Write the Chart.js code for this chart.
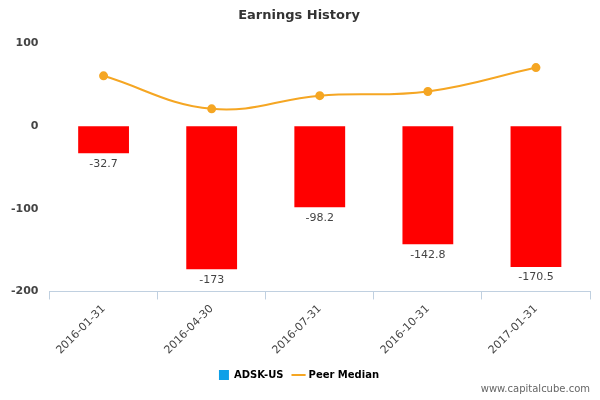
<!DOCTYPE html>
<html>
<head>
<script src="https://cdn.jsdelivr.net/npm/chart.js@4"></script>
<style>
  body { margin: 0; background: #fff; }
  #wrap { width: 600px; height: 400px; position: relative; }
  #mark { position: absolute; right: 10px; bottom: 6px; font: 10px "DejaVu Sans", sans-serif; color: #666; }
</style>
</head>
<body>
<div id="wrap">
  <canvas id="chart" width="600" height="400"></canvas>
  <div id="mark">www.capitalcube.com</div>
</div>
<script>
/* --------------- Data --------------------- */
const categories = ["2016-01-31", "2016-04-30", "2016-07-31", "2016-10-31", "2017-01-31"];
const earnings = [-32.7, -173, -98.2, -142.8, -170.5];
const peerMedian = [61, 21, 37, 42, 71];

/* --------------- Labels under the bars --------------------- */
const barLabels = {
  id: "barLabels",
  afterDatasetsDraw(chart) {
    const ctx = chart.ctx;
    const meta = chart.getDatasetMeta(0);
    ctx.save();
    ctx.font = "11px 'DejaVu Sans', sans-serif";
    ctx.fillStyle = "#444";
    ctx.textAlign = "center";
    ctx.textBaseline = "top";
    meta.data.forEach((bar, i) => {
      ctx.fillText(String(earnings[i]), bar.x, bar.y + 5);
    });
    ctx.restore();
  },
};

new Chart(document.getElementById("chart"), {
  plugins: [barLabels],
  data: {
    labels: categories,
    datasets: [
      {
        type: "bar",
        label: "ADSK-US",
        data: earnings,
        backgroundColor: "#ff0000",
        barPercentage: 0.47,
        categoryPercentage: 1,
        order: 2,
      },
      {
        type: "line",
        label: "Peer Median",
        data: peerMedian,
        borderColor: "#f5a623",
        backgroundColor: "#f5a623",
        borderWidth: 2,
        pointRadius: 3.5,
        tension: 0.4,
        order: 1,
      },
    ],
  },
  options: {
    responsive: false,
    animation: false,
    layout: { padding: { left: 8, right: 10, bottom: 10 } },
    plugins: {
      tooltip: false,
      title: {
        display: true,
        text: "Earnings History",
        color: "#333",
        font: { family: "DejaVu Sans", size: 13, weight: "bold" },
        padding: { top: 8, bottom: 20 },
      },
      legend: {
        position: "bottom",
        labels: {
          color: "#333",
          font: { family: "DejaVu Sans", size: 10, weight: "bold" },
          usePointStyle: true,
          boxWidth: 16,
          boxHeight: 11,
          generateLabels: (chart) => [
            { text: "ADSK-US", fillStyle: "#0ea0e8", strokeStyle: "#0ea0e8", lineWidth: 0, pointStyle: "rect", datasetIndex: 0 },
            { text: "Peer Median", fillStyle: "#f5a623", strokeStyle: "#f5a623", lineWidth: 2, pointStyle: "line", datasetIndex: 1 },
          ],
        },
      },
    },
    scales: {
      x: {
        grid: { display: true, drawOnChartArea: false, offset: true, color: "#c0d0e0", tickLength: 8 },
        border: { color: "#c0d0e0" },
        ticks: { color: "#444", maxRotation: 45, minRotation: 45, font: { family: "DejaVu Sans", size: 11 } },
      },
      y: {
        min: -200,
        max: 100,
        grid: { display: false },
        border: { display: false },
        ticks: { stepSize: 100, color: "#444", font: { family: "DejaVu Sans", size: 11, weight: "bold" } },
      },
    },
  },
});
</script>
</body>
</html>
